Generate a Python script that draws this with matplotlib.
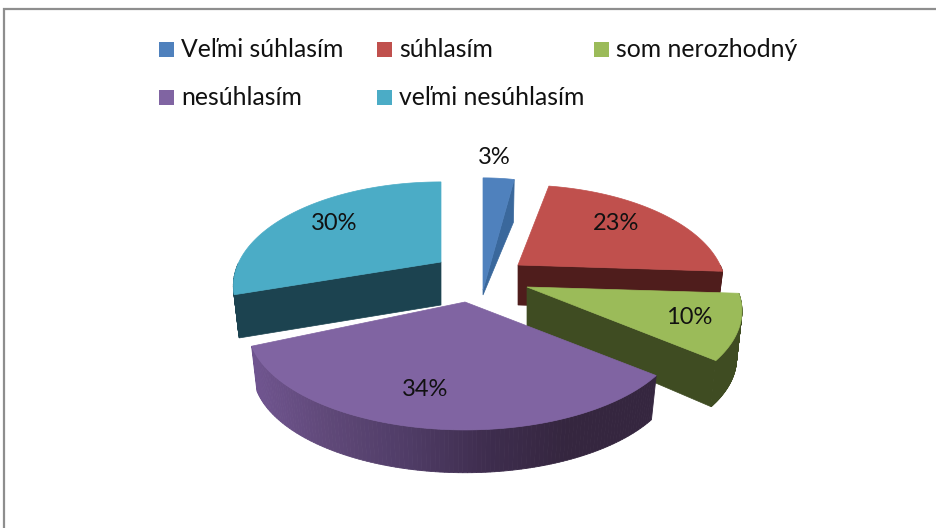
import numpy as np
import matplotlib
matplotlib.use("Agg")
import matplotlib.pyplot as plt
from matplotlib.colors import LinearSegmentedColormap
from matplotlib.patches import Polygon, Rectangle

# data
categories = ["Veľmi súhlasím", "súhlasím", "som nerozhodný", "nesúhlasím", "veľmi nesúhlasím"]
values = [3, 23, 10, 34, 30]
pct_labels = ["3%", "23%", "10%", "34%", "30%"]

# style
top_colors = ["#4f81bd", "#c0504d", "#9bbb59", "#8064a2", "#4bacc6"]
cut_colors = ["#3a689c", "#4f1d1c", "#3f4c22", "#35263f", "#1c4350"]
apex_x = [483, 518, 527, 465, 441]
apex_y = [290, 265, 287, 302, 262]
depth = [40, 40, 48, 46, 44]
apex_depth = [5, 40, 41, 0, 43]
x_stretch = [0.95, 0.94, 0.973, 0.985, 0.94]
y_stretch = [1.4, 1, 1, 1, 1]
end_trim_deg = [0, 0, 0, 6, 0]  # perspective distortion of the slice's far edge
draw_order = [0, 4, 1, 2, 3]
cut_at_end = [True, True, True, False, False]
has_cut = [True, True, True, False, True]
label_x = [494, 616, 689, 425, 334]
label_y = [158, 223, 317, 389, 223]
legend_x = [159, 377, 594, 159, 377]
legend_y = [49.5, 49.5, 49.5, 97.5, 97.5]
R, H, K, SHRINK = 215.0, 98.5, 0.23, 0.975
FONT = "Lato"

fig = plt.figure(figsize=(9.36, 5.28), dpi=100, facecolor="white")
ax = fig.add_axes([0, 0, 1, 1])
ax.set_xlim(0, 936)
ax.set_ylim(528, 0)
ax.axis("off")

ax.plot([4, 4, 936], [528, 9, 9], color="#8e8e8e", lw=1.6, solid_joinstyle="miter")


def rim(i, a, lower=False):
    """Screen position of the rim of slice i at clockwise angle a (radians from the top)."""
    s = 1 / (1 + K * np.cos(a))
    x = R * x_stretch[i] * np.sin(a) * s
    y = -H * y_stretch[i] * np.cos(a) * s
    if lower:
        return apex_x[i] + x * SHRINK, apex_y[i] + y * SHRINK + depth[i]
    return apex_x[i] + x, apex_y[i] + y


side_cmap = LinearSegmentedColormap.from_list(
    "side", ["#705590", "#5f4878", "#4f3c66", "#3e2d4e", "#35263f", "#35263f"])
edges = np.cumsum([0] + values) / sum(values) * 2 * np.pi

for i in draw_order:
    a0, a1 = edges[i], edges[i + 1] - np.radians(end_trim_deg[i])
    t = np.linspace(a0, a1, 120)
    # cut face
    if has_cut[i]:
        a = a1 if cut_at_end[i] else a0
        tx, ty = rim(i, a)
        bx, by = rim(i, a, True)
        ax.add_patch(Polygon([(apex_x[i], apex_y[i]), (tx, ty), (bx, by),
                              (apex_x[i], apex_y[i] + apex_depth[i])],
                             fc=cut_colors[i], ec=cut_colors[i], lw=0.5))
    # outer side, front-facing part
    if a1 > np.pi / 2 and a0 < 1.5 * np.pi:
        ts = t[(t > np.pi / 2) & (t < 1.5 * np.pi)]
        for j in range(len(ts) - 1):
            p0, p1 = rim(i, ts[j]), rim(i, ts[j + 1])
            q0, q1 = rim(i, ts[j], True), rim(i, ts[j + 1], True)
            if i == 3:
                col = side_cmap(np.clip((p0[0] - 250) / 400, 0, 1))
            else:
                col = cut_colors[i]
            ax.add_patch(Polygon([p0, p1, q1, q0], fc=col, ec=col, lw=0.6))
    # top face
    xs, ys = rim(i, t)
    pts = [(apex_x[i], apex_y[i])] + list(zip(xs, ys))
    ax.add_patch(Polygon(pts, fc=top_colors[i], ec=top_colors[i], lw=0.5))

for lx, ly, text in zip(label_x, label_y, pct_labels):
    ax.text(lx, ly, text, ha="center", va="center", family=FONT, fontsize=17, color="#111111")

for lx, ly, c, text in zip(legend_x, legend_y, top_colors, categories):
    ax.add_patch(Rectangle((lx, ly - 7.5), 15, 15, fc=c, ec="none"))
    ax.text(lx + 22, ly, text, ha="left", va="center", family=FONT, fontsize=17.8, color="#111111")

fig.savefig("out.png", dpi=100)
